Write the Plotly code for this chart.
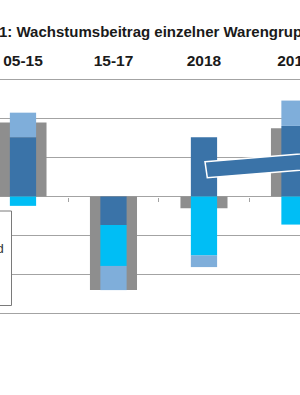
import plotly.graph_objects as go

# ---- data ----
categories = ["05-15", "15-17", "2018", "2019"]
total = [1.90, -2.40, -0.30, 1.75]      # grey wide bars (overall contribution)
dark = [1.52, -0.73, 1.52, 1.81]        # dark blue
cyan = [-0.24, -1.05, -1.51, -0.72]     # bright blue
light = [0.63, -0.62, -0.30, 0.65]      # light blue
grid_vals = [-3, -2, -1, 0, 1, 2, 3]

title_text = "1: Wachstumsbeitrag einzelner Warengruppen"
legend_text = "Gesamt und"

GRAY = "#8E8E8E"
DARK = "#3A73A8"
CYAN = "#00BEF5"
LIGHT = "#7FAEDA"
GRID = "#A3A3A3"
FONT = "Liberation Sans"

W, H = 300, 395
m_t, m_b = 70, 70
y_lo, y_hi = -3.295, 3.244
x_lo, x_hi = -0.254, 3.061
plot_h = H - m_t - m_b


def px_x(p):
    return p / W


def px_y(p):
    return (H - m_b - p) / plot_h


fig = go.Figure()
fig.add_bar(x=categories, y=total, marker=dict(color=GRAY, line=dict(width=0)),
            width=0.52, xaxis="x", yaxis="y")
for vals, col in [(dark, DARK), (cyan, CYAN), (light, LIGHT)]:
    fig.add_bar(x=categories, y=vals, marker=dict(color=col, line=dict(width=0)),
                width=0.29, xaxis="x2", yaxis="y2")

zero_pos = (0 - y_lo) / (y_hi - y_lo)

fig.update_layout(
    width=W, height=H,
    margin=dict(l=0, r=0, t=m_t, b=m_b, pad=0, autoexpand=False),
    barmode="relative",
    showlegend=False,
    plot_bgcolor="white", paper_bgcolor="white",
    xaxis=dict(type="category", categoryorder="array", categoryarray=categories,
               range=[x_lo, x_hi], anchor="free", position=zero_pos,
               ticks="outside", tickson="boundaries", ticklen=4, tickwidth=1,
               tickcolor=GRID, showticklabels=False, showline=False,
               showgrid=False, zeroline=False, automargin=False),
    xaxis2=dict(type="category", categoryorder="array", categoryarray=categories,
                range=[x_lo, x_hi], overlaying="x", side="top", anchor="y2",
                ticks="", showline=False, showgrid=False, zeroline=False,
                automargin=False,
                tickfont=dict(family=FONT, size=15.5, color="#1a1a1a", weight="bold")),
    yaxis=dict(range=[y_lo, y_hi], tickvals=grid_vals, showticklabels=False,
               ticks="", showgrid=True, gridcolor=GRID, gridwidth=1,
               zeroline=True, zerolinecolor=GRID, zerolinewidth=1, showline=False,
               automargin=False),
    yaxis2=dict(range=[y_lo, y_hi], overlaying="y", anchor="x2", visible=False,
                automargin=False),
)

# legend box (mostly cut off at the left edge)
fig.add_shape(type="rect", xref="paper", yref="paper",
              x0=px_x(-60), x1=px_x(11.5), y0=px_y(305.5), y1=px_y(211),
              fillcolor="white", line=dict(color="#7A7A7A", width=1), layer="above")
fig.add_annotation(text=legend_text, xref="paper", yref="paper",
                   x=px_x(5.5), y=px_y(248), xanchor="right", yanchor="middle",
                   showarrow=False, font=dict(family=FONT, size=13, color="#333333"))

# tilted arrow (callout) pointing towards 2019
arrow = [(205, 161.7), (340, 150.8), (341.3, 167), (207.3, 177.7)]
path = "M " + " L ".join(f"{px_x(a):.4f},{px_y(b):.4f}" for a, b in arrow) + " Z"
fig.add_shape(type="path", xref="paper", yref="paper", path=path,
              fillcolor=DARK, line=dict(color="white", width=1.5), layer="above")

# title
fig.add_annotation(text=title_text, xref="paper", yref="paper",
                   x=px_x(-3), y=px_y(31), xanchor="left", yanchor="middle",
                   showarrow=False,
                   font=dict(family=FONT, size=15, color="#1a1a1a", weight="bold"))

fig.write_html("out.html")
